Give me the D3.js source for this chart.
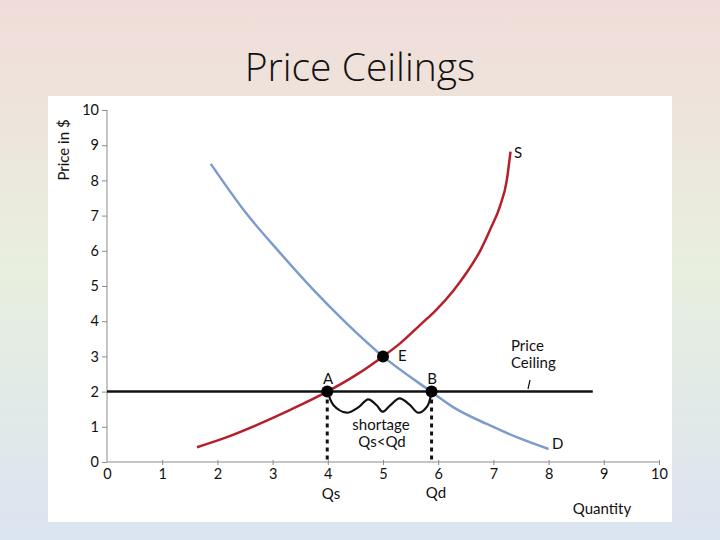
<!DOCTYPE html>
<html>
<head>
<meta charset="utf-8">
<script src="https://cdn.jsdelivr.net/npm/d3@7"></script>
<style>
  body { margin: 0; }
  svg text { font-family: Lato, "Open Sans", sans-serif; fill: #111; }
</style>
</head>
<body>
<div id="chart"></div>
<script>
var width = 720;
var height = 540;

// data
var supply = [[1.63,0.42],[2.11,0.67],[2.71,1.05],[3.32,1.48],[3.98,1.99],[4.5,2.46],[5.0,3.0],
              [5.31,3.37],[5.67,3.89],[5.97,4.33],[6.27,4.86],[6.52,5.39],[6.76,6.0],[6.94,6.6],
              [7.12,7.27],[7.24,7.98],[7.31,8.82]];
var demand = [[1.88,8.47],[2.53,7.05],[3.13,5.95],[3.74,4.89],[4.34,3.94],[5.0,3.0],[5.88,1.99],
              [6.27,1.56],[6.88,1.08],[7.48,0.67],[8.0,0.37]];
var shortageWave = [[4.0,2.0],[4.1,1.62],[4.34,1.4],[4.56,1.56],[4.73,1.78],[4.88,1.62],[4.99,1.43],
                    [5.13,1.61],[5.3,1.81],[5.48,1.63],[5.64,1.4],[5.8,1.58],[5.88,2.0]];
var ceilingPrice = 2;
var ceilingEnd = 8.8;
var qs = 3.99, qd = 5.88;
var points = [{name:"A", x:3.99, y:2}, {name:"B", x:5.88, y:2}, {name:"E", x:5, y:3}];
var xTicks = [0,1,2,3,4,5,6,7,8,9,10];
var yTicks = [0,1,2,3,4,5,6,7,8,9,10];

var svg = d3.select("#chart").append("svg")
    .attr("width", width)
    .attr("height", height);

// slide background
var defs = svg.append("defs");
var grad = defs.append("linearGradient").attr("id", "bg")
    .attr("x1", 0).attr("y1", 0).attr("x2", 0).attr("y2", 1);
grad.append("stop").attr("offset", "0%").attr("stop-color", "#f1dcd9");
grad.append("stop").attr("offset", "50%").attr("stop-color", "#e8efdf");
grad.append("stop").attr("offset", "100%").attr("stop-color", "#dbe4f1");
svg.append("rect").attr("width", width).attr("height", height).attr("fill", "url(#bg)");

svg.append("text")
    .attr("x", 360).attr("y", 81)
    .attr("text-anchor", "middle")
    .style("font-family", "'Open Sans', sans-serif")
    .style("font-weight", 300)
    .style("font-size", "39px")
    .text("Price Ceilings");

svg.append("rect")
    .attr("x", 48).attr("y", 96)
    .attr("width", 624).attr("height", 426)
    .attr("fill", "#fff");

var xScale = d3.scaleLinear().domain([0, 10]).range([107, 659]);
var yScale = d3.scaleLinear().domain([0, 10]).range([462, 110]);

// axes
var xAxis = d3.axisBottom(xScale).tickValues(xTicks).tickSize(3).tickPadding(4);
var yAxis = d3.axisLeft(yScale).tickValues(yTicks).tickSize(5).tickPadding(3);

var gx = svg.append("g").attr("transform", "translate(0," + yScale(0) + ")").call(xAxis);
var gy = svg.append("g").attr("transform", "translate(" + xScale(0) + ",0)").call(yAxis);
[gx, gy].forEach(function(g) {
    g.select(".domain").attr("stroke", "#8c8c8c");
    g.selectAll(".tick line").attr("stroke", "#8c8c8c");
    g.selectAll(".tick text").style("font-size", "14.5px").attr("fill", "#111");
});
gx.select(".domain").attr("d", "M" + xScale(0) + ",0H" + xScale(10));
gy.select(".domain").attr("d", "M0," + yScale(0) + "V" + yScale(10));
gx.selectAll(".tick line").attr("y1", -2).attr("y2", 3);
gx.selectAll(".tick").filter(function(d) { return d === 0; }).select("line").attr("y1", 0).attr("y2", 0);

svg.append("text")
    .attr("transform", "translate(69,150) rotate(-90)")
    .attr("text-anchor", "middle")
    .style("font-size", "15px")
    .text("Price in $");

svg.append("text")
    .attr("x", 602).attr("y", 514)
    .attr("text-anchor", "middle")
    .style("font-size", "15px")
    .text("Quantity");

var smooth = d3.line()
    .x(function(d) { return xScale(d[0]); })
    .y(function(d) { return yScale(d[1]); })
    .curve(d3.curveMonotoneX);

var wave = d3.line()
    .x(function(d) { return xScale(d[0]); })
    .y(function(d) { return yScale(d[1]); })
    .curve(d3.curveCatmullRom);

// dashed drops
[qs, qd].forEach(function(q) {
    svg.append("line")
        .attr("x1", xScale(q)).attr("x2", xScale(q))
        .attr("y1", yScale(ceilingPrice)).attr("y2", yScale(0))
        .attr("stroke", "#111")
        .attr("stroke-width", 3)
        .attr("stroke-dasharray", "4,4");
});

// price ceiling
svg.append("line")
    .attr("x1", xScale(0)).attr("x2", xScale(ceilingEnd))
    .attr("y1", yScale(ceilingPrice)).attr("y2", yScale(ceilingPrice))
    .attr("stroke", "#111")
    .attr("stroke-width", 2.5);

svg.append("path").datum(demand)
    .attr("d", smooth)
    .attr("fill", "none")
    .attr("stroke", "#7c9ccd")
    .attr("stroke-width", 2.5);

svg.append("path").datum(supply)
    .attr("d", smooth)
    .attr("fill", "none")
    .attr("stroke", "#b4202b")
    .attr("stroke-width", 2.5);

svg.append("path").datum(shortageWave)
    .attr("d", wave)
    .attr("fill", "none")
    .attr("stroke", "#111")
    .attr("stroke-width", 2.2);

svg.selectAll("circle.pt")
    .data(points)
    .enter()
    .append("circle")
    .attr("class", "pt")
    .attr("cx", function(d) { return xScale(d.x); })
    .attr("cy", function(d) { return yScale(d.y); })
    .attr("r", 6)
    .attr("fill", "#000");

// labels
var labels = [
    {t:"A", x:328, y:384, a:"middle"},
    {t:"B", x:432, y:384, a:"middle"},
    {t:"E", x:398, y:361, a:"start"},
    {t:"S", x:514, y:158, a:"start"},
    {t:"D", x:552, y:449, a:"start"},
    {t:"shortage", x:381, y:430, a:"middle"},
    {t:"Qs<Qd", x:382, y:447, a:"middle"},
    {t:"Qs", x:331, y:499, a:"middle"},
    {t:"Qd", x:436, y:498, a:"middle"},
    {t:"Price", x:511, y:351, a:"start"},
    {t:"Ceiling", x:511, y:368, a:"start"}
];
svg.selectAll("text.lbl")
    .data(labels)
    .enter()
    .append("text")
    .attr("class", "lbl")
    .attr("x", function(d) { return d.x; })
    .attr("y", function(d) { return d.y; })
    .attr("text-anchor", function(d) { return d.a; })
    .style("font-size", "15px")
    .text(function(d) { return d.t; });

svg.append("line")
    .attr("x1", 530).attr("y1", 380)
    .attr("x2", 528).attr("y2", 389)
    .attr("stroke", "#111")
    .attr("stroke-width", 1.2);
</script>
</body>
</html>
